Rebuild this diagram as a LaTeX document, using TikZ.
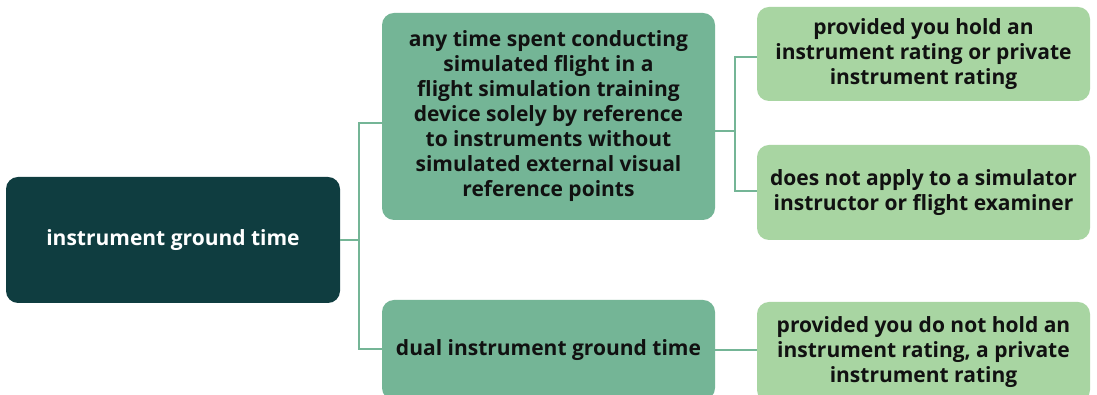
\documentclass[tikz,border=0pt]{standalone}
\usepackage{fontspec}
\setmainfont{Open Sans}[BoldFont={Open Sans Bold}]
\definecolor{rootc}{HTML}{0F3D40}
\definecolor{midc}{HTML}{74B596}
\definecolor{leafc}{HTML}{A8D5A2}
\definecolor{txtc}{HTML}{111111}
\tikzset{
  box/.style={rounded corners=12pt, inner sep=0pt, align=center, font=\fontsize{21}{25}\selectfont\bfseries},
  rootbox/.style={box, fill=rootc, text=white},
  midbox/.style={box, fill=midc, text=txtc, minimum width=333pt},
  leafbox/.style={box, fill=leafc, text=txtc, minimum width=333pt},
  link/.style={draw=midc, line width=2pt}
}
\begin{document}
\begin{tikzpicture}[x=1pt,y=1pt]
\clip (0,0) rectangle (1097,395);
\fill[white] (0,0) rectangle (1097,395);
\node[rootbox, minimum width=334pt, minimum height=126pt] (root) at (173,155) {instrument ground time};
\node[midbox, minimum height=207pt] (a) at (548.5,278.5) {any time spent conducting\\simulated flight in a\\flight simulation training\\device solely by reference\\to instruments without\\simulated external visual\\reference points};
\node[midbox, minimum height=100pt] (b) at (548.5,45) {dual instrument ground time};
\node[leafbox, minimum height=94pt] (c1) at (923.5,341) {provided you hold an\\instrument rating or private\\instrument rating};
\node[leafbox, minimum height=95pt] (c2) at (923.5,202.5) {does not apply to a simulator\\instructor or flight examiner};
\node[leafbox, minimum height=100pt] (c3) at (923.5,43) {provided you do not hold an\\instrument rating, a private\\instrument rating};
\coordinate (j1) at (359,155);
\coordinate (j2) at (735,263.5);
\draw[link] (root.east) -- (j1);
\draw[link] (j1) |- ([yshift=-6.5pt]a.west);
\draw[link] (j1) |- ([yshift=1pt]b.west);
\draw[link] ([yshift=-15pt]a.east) -- (j2);
\draw[link] (j2) |- ([yshift=-3pt]c1.west);
\draw[link] (j2) |- ([yshift=1.5pt]c2.west);
\draw[link] (b.east) -- (c3.west |- b.east);
\end{tikzpicture}
\end{document}
